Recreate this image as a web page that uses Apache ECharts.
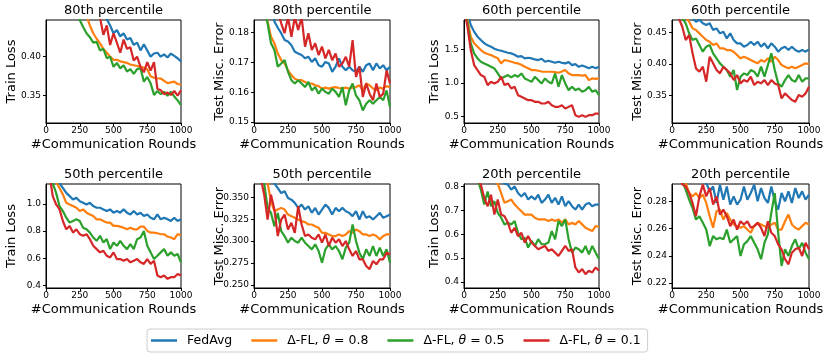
<!DOCTYPE html>
<html>
<head>
<meta charset="utf-8">
<title>Delta-FL percentile curves</title>
<script src="https://cdn.jsdelivr.net/npm/echarts@6/dist/echarts.min.js"></script>
<style>
  html, body { margin: 0; padding: 0; background: #fff; }
  #chart { width: 830px; height: 353px; }
</style>
</head>
<body>
<div id="chart"></div>
<script>
// communication rounds (x values shared by every curve)
const rounds = [0, 25, 50, 75, 100, 125, 150, 175, 200, 225, 250, 275, 300, 325, 350, 375, 400, 425, 450, 475,
  500, 525, 550, 575, 600, 625, 650, 675, 700, 725, 750, 775, 800, 825, 850, 875, 900, 925, 950, 975, 1000];
const xTicks = [0, 250, 500, 750, 1000];

const seriesNames = ['FedAvg', 'Δ-FL, θ = 0.8', 'Δ-FL, θ = 0.5', 'Δ-FL, θ = 0.1'];
const colors = ['#1f77b4', '#ff7f0e', '#2ca02c', '#d62728'];

const titles = ['80th percentile', '80th percentile', '60th percentile', '60th percentile',
  '50th percentile', '50th percentile', '20th percentile', '20th percentile'];
const yNames = ['Train Loss', 'Test Misc. Error', 'Train Loss', 'Test Misc. Error',
  'Train Loss', 'Test Misc. Error', 'Train Loss', 'Test Misc. Error'];

// y tick labels per panel
const yTicks1 = [0.35, 0.40];
const yTicks2 = [0.15, 0.16, 0.17, 0.18];
const yTicks3 = [0.5, 1.0, 1.5];
const yTicks4 = [0.35, 0.40, 0.45];
const yTicks5 = [0.4, 0.6, 0.8, 1.0];
const yTicks6 = [0.25, 0.275, 0.3, 0.325, 0.35];
const yTicks7 = [0.4, 0.5, 0.6, 0.7, 0.8];
const yTicks8 = [0.22, 0.24, 0.26, 0.28];

// train loss, 80th percentile
const loss80FedAvg = [0.85,0.78,0.73,0.69,0.66,0.63,0.61,0.59,0.57,0.55,0.535,0.52,0.505,0.495,0.485,0.475,0.465,0.455,0.448,0.44,0.430,0.434,0.426,0.43,0.422,0.424,0.415,0.418,0.408,0.416,0.408,0.40,0.404,0.405,0.400,0.403,0.399,0.404,0.401,0.398,0.394];
const loss80T08 = [0.75,0.70,0.66,0.62,0.59,0.57,0.55,0.53,0.51,0.495,0.48,0.465,0.452,0.44,0.43,0.423,0.417,0.41,0.405,0.40,0.396,0.396,0.394,0.393,0.392,0.39,0.389,0.388,0.387,0.386,0.384,0.375,0.373,0.372,0.372,0.369,0.366,0.367,0.368,0.365,0.364];
const loss80T05 = [0.70,0.65,0.61,0.58,0.55,0.53,0.51,0.49,0.475,0.46,0.447,0.438,0.43,0.425,0.418,0.419,0.408,0.41,0.398,0.40,0.387,0.392,0.385,0.389,0.381,0.384,0.378,0.384,0.385,0.368,0.374,0.366,0.351,0.356,0.352,0.355,0.350,0.355,0.349,0.344,0.338];
const loss80T01 = [0.80,0.74,0.70,0.66,0.62,0.60,0.58,0.56,0.54,0.52,0.51,0.50,0.49,0.48,0.47,0.46,0.45,0.428,0.44,0.415,0.43,0.418,0.405,0.422,0.41,0.412,0.395,0.40,0.387,0.38,0.393,0.382,0.393,0.359,0.357,0.352,0.354,0.351,0.356,0.350,0.357];

// test misc. error, 80th percentile
const err80FedAvg = [0.25,0.235,0.222,0.21,0.2,0.192,0.1836,0.1815,0.1797,0.1774,0.1769,0.1757,0.1735,0.1729,0.1724,0.1713,0.1718,0.1701,0.1713,0.1690,0.1685,0.1701,0.1696,0.1668,0.1685,0.1713,0.1685,0.1673,0.1685,0.1673,0.1668,0.1685,0.1668,0.1690,0.1696,0.1673,0.1696,0.1679,0.1690,0.1673,0.1685];
const err80T08 = [0.22,0.208,0.198,0.19,0.1835,0.1785,0.1763,0.1729,0.1707,0.1696,0.1673,0.1657,0.1645,0.1640,0.1640,0.1634,0.1629,0.1629,0.1623,0.1620,0.1612,0.1615,0.1612,0.1615,0.1617,0.1614,0.1612,0.1615,0.1612,0.1615,0.1617,0.1623,0.1606,0.1629,0.1623,0.1612,0.1606,0.1615,0.1612,0.1620,0.1617];
const err80T05 = [0.215,0.205,0.196,0.188,0.183,0.1763,0.1741,0.1685,0.1696,0.1707,0.1668,0.1640,0.1629,0.1640,0.1629,0.1617,0.1634,0.1606,0.1617,0.1595,0.1612,0.1601,0.1595,0.1612,0.1601,0.1584,0.1617,0.1556,0.1606,0.1629,0.1589,0.1573,0.1539,0.1561,0.1573,0.1561,0.1573,0.1584,0.1573,0.1606,0.1550];
const err80T01 = [0.26,0.245,0.232,0.22,0.21,0.2,0.192,0.187,0.1830,0.1797,0.185,0.1785,0.185,0.1808,0.185,0.1752,0.1797,0.1741,0.1763,0.1724,0.1752,0.1713,0.1741,0.1707,0.1729,0.1685,0.1696,0.1718,0.1685,0.1774,0.1651,0.1685,0.1584,0.1629,0.1595,0.1573,0.1629,0.1584,0.1595,0.1673,0.1629];

// train loss, 60th percentile
const loss60FedAvg = [2.4,2.05,1.863,1.764,1.689,1.639,1.590,1.56,1.540,1.51,1.490,1.48,1.465,1.45,1.440,1.42,1.391,1.40,1.366,1.375,1.366,1.35,1.341,1.36,1.316,1.33,1.316,1.30,1.316,1.30,1.291,1.31,1.266,1.28,1.241,1.26,1.241,1.22,1.241,1.22,1.241];
const loss60T08 = [2.3,1.95,1.689,1.590,1.540,1.49,1.450,1.43,1.415,1.39,1.366,1.291,1.341,1.33,1.316,1.30,1.291,1.27,1.241,1.22,1.192,1.19,1.182,1.17,1.167,1.167,1.167,1.16,1.152,1.17,1.192,1.14,1.117,1.117,1.117,1.11,1.117,1.042,1.067,1.06,1.067];
const loss60T05 = [2.2,1.9,1.590,1.440,1.366,1.316,1.291,1.266,1.241,1.216,1.142,1.067,1.092,1.117,1.082,1.117,1.092,1.142,1.067,1.042,1.017,1.092,1.042,0.993,1.067,1.017,0.993,1.142,0.943,1.117,0.993,0.893,0.943,0.893,0.918,0.868,0.893,0.943,0.868,0.893,0.818];
const loss60T01 = [2.1,1.85,1.490,1.266,1.192,1.117,1.092,0.968,1.017,0.993,1.017,1.092,0.968,0.993,0.918,0.943,0.818,0.794,0.769,0.744,0.744,0.719,0.719,0.694,0.694,0.719,0.669,0.644,0.644,0.669,0.619,0.644,0.669,0.520,0.495,0.520,0.495,0.520,0.520,0.545,0.545];

// test misc. error, 60th percentile
const err60FedAvg = [0.56,0.53,0.51,0.495,0.485,0.478,0.472,0.4668,0.470,0.4642,0.4616,0.4642,0.4537,0.4563,0.4484,0.4511,0.4405,0.4484,0.4379,0.4326,0.4326,0.4274,0.430,0.4353,0.430,0.4353,0.4274,0.4326,0.4248,0.4326,0.4274,0.4195,0.4248,0.4274,0.4221,0.4274,0.4221,0.4195,0.4221,0.4195,0.4232];
const err60T08 = [0.53,0.51,0.495,0.483,0.474,0.4668,0.4563,0.4537,0.4484,0.4432,0.4379,0.4353,0.430,0.4326,0.4248,0.4248,0.4221,0.4221,0.4195,0.4142,0.409,0.4116,0.409,0.4063,0.4037,0.4011,0.4063,0.4037,0.409,0.4037,0.4116,0.4063,0.3984,0.3958,0.3932,0.3958,0.3932,0.3958,0.3984,0.4011,0.40];
const err60T05 = [0.52,0.50,0.485,0.472,0.4642,0.4484,0.4379,0.4405,0.430,0.4195,0.4274,0.430,0.4169,0.409,0.4011,0.3958,0.3906,0.380,0.3906,0.359,0.380,0.3853,0.3827,0.3906,0.3879,0.380,0.3958,0.380,0.3984,0.4169,0.3906,0.3695,0.3643,0.3748,0.3827,0.3748,0.3722,0.3827,0.3722,0.3774,0.3774];
const err60T01 = [0.51,0.49,0.472,0.4589,0.4379,0.4458,0.4169,0.3932,0.3879,0.3958,0.3722,0.4116,0.4011,0.3906,0.3853,0.3958,0.3906,0.3853,0.3748,0.3827,0.3695,0.3748,0.3722,0.380,0.3669,0.3722,0.3695,0.3748,0.3669,0.3748,0.3695,0.3669,0.3458,0.3537,0.3485,0.3432,0.3406,0.3511,0.3485,0.3537,0.3643];

// train loss, 50th percentile
const loss50FedAvg = [1.6,1.45,1.32,1.22,1.15,1.116,1.080,1.056,1.032,1.044,1.019,1.007,0.995,1.007,0.983,0.971,0.971,0.959,0.947,0.959,0.935,0.947,0.935,0.959,0.935,0.922,0.947,0.922,0.935,0.910,0.922,0.898,0.886,0.922,0.886,0.898,0.886,0.874,0.898,0.874,0.886];
const loss50T08 = [1.5,1.35,1.24,1.16,1.116,1.068,1.007,0.995,0.983,0.971,0.947,0.959,0.935,0.922,0.910,0.886,0.886,0.874,0.862,0.862,0.838,0.838,0.833,0.825,0.813,0.825,0.813,0.813,0.833,0.833,0.801,0.789,0.789,0.784,0.777,0.777,0.760,0.753,0.741,0.777,0.770];
const loss50T05 = [1.45,1.28,1.15,1.080,0.983,0.947,0.898,0.862,0.874,0.886,0.874,0.825,0.813,0.789,0.753,0.729,0.765,0.716,0.741,0.668,0.716,0.692,0.729,0.692,0.668,0.704,0.668,0.741,0.753,0.801,0.692,0.644,0.595,0.619,0.644,0.668,0.619,0.644,0.619,0.632,0.571];
const loss50T01 = [1.4,1.22,1.056,0.995,0.959,0.874,0.813,0.838,0.789,0.813,0.777,0.765,0.777,0.741,0.692,0.668,0.644,0.656,0.619,0.607,0.644,0.595,0.595,0.583,0.595,0.571,0.583,0.595,0.571,0.559,0.595,0.559,0.583,0.474,0.462,0.474,0.450,0.462,0.462,0.486,0.474];

// test misc. error, 50th percentile
const err50FedAvg = [0.45,0.43,0.41,0.395,0.382,0.372,0.366,0.3606,0.3549,0.3568,0.3492,0.3473,0.3436,0.3379,0.3417,0.336,0.3398,0.3322,0.3379,0.3303,0.336,0.3417,0.3379,0.3303,0.3379,0.3341,0.3379,0.3341,0.3322,0.3284,0.3341,0.3246,0.3341,0.3265,0.3284,0.3246,0.3284,0.3322,0.3265,0.3284,0.3303];
const err50T08 = [0.43,0.41,0.39,0.376,0.366,0.3455,0.3341,0.336,0.3379,0.336,0.3303,0.3284,0.3265,0.3246,0.3227,0.3216,0.3189,0.3189,0.317,0.3151,0.3094,0.3094,0.3075,0.3057,0.3057,0.3075,0.3057,0.3075,0.3113,0.3094,0.3132,0.3113,0.3075,0.3075,0.3057,0.3075,0.3057,0.3019,0.3057,0.3075,0.3075];
const err50T05 = [0.42,0.40,0.38,0.366,0.3379,0.3322,0.317,0.3322,0.3113,0.3057,0.2981,0.3038,0.30,0.2981,0.3038,0.2981,0.2943,0.2905,0.2962,0.2886,0.2753,0.2905,0.2962,0.2905,0.2943,0.2886,0.2791,0.2924,0.2981,0.3189,0.30,0.2867,0.2791,0.2905,0.2829,0.2943,0.2829,0.2924,0.2829,0.2905,0.2753];
const err50T01 = [0.41,0.39,0.372,0.353,0.3246,0.353,0.336,0.3057,0.3246,0.3303,0.3132,0.3208,0.3094,0.3398,0.3189,0.3057,0.3075,0.3038,0.3019,0.3075,0.2981,0.3075,0.2943,0.3038,0.2981,0.3019,0.2943,0.30,0.2905,0.2829,0.2886,0.2791,0.2791,0.2715,0.2678,0.2772,0.2734,0.2791,0.2791,0.2867,0.2848];

// train loss, 20th percentile
const loss20FedAvg = [1.2,1.12,1.06,1.0,0.96,0.93,0.90,0.88,0.86,0.85,0.835,0.825,0.812,0.807,0.786,0.80,0.772,0.758,0.772,0.745,0.758,0.745,0.765,0.731,0.745,0.765,0.731,0.752,0.724,0.758,0.717,0.738,0.717,0.703,0.724,0.703,0.724,0.731,0.717,0.724,0.724];
const loss20T08 = [1.1,1.04,0.99,0.95,0.92,0.895,0.875,0.857,0.842,0.83,0.812,0.772,0.731,0.738,0.745,0.724,0.710,0.696,0.682,0.682,0.682,0.669,0.662,0.662,0.662,0.655,0.662,0.655,0.662,0.648,0.662,0.641,0.648,0.641,0.655,0.641,0.627,0.620,0.613,0.634,0.631];
const loss20T05 = [1.05,0.98,0.92,0.87,0.83,0.786,0.724,0.779,0.717,0.738,0.689,0.669,0.641,0.648,0.641,0.655,0.606,0.579,0.585,0.544,0.572,0.551,0.579,0.558,0.558,0.565,0.613,0.579,0.655,0.634,0.662,0.579,0.523,0.544,0.537,0.523,0.551,0.516,0.551,0.523,0.496];
const loss20T01 = [1.0,0.95,0.90,0.86,0.83,0.807,0.752,0.717,0.765,0.682,0.745,0.682,0.675,0.648,0.606,0.627,0.592,0.606,0.565,0.592,0.565,0.551,0.537,0.544,0.551,0.530,0.537,0.523,0.509,0.530,0.551,0.530,0.537,0.461,0.440,0.454,0.433,0.447,0.440,0.461,0.447];

// test misc. error, 20th percentile
const err20FedAvg = [0.36,0.345,0.333,0.323,0.315,0.309,0.304,0.30,0.297,0.295,0.2935,0.2873,0.2909,0.2788,0.2922,0.2812,0.2909,0.2776,0.2836,0.2776,0.2812,0.2909,0.2812,0.2861,0.2922,0.28,0.2897,0.2824,0.2788,0.2909,0.28,0.2739,0.2861,0.28,0.2873,0.2788,0.2897,0.2824,0.2873,0.2812,0.2849];
const err20T08 = [0.33,0.318,0.308,0.30,0.2935,0.2861,0.2836,0.2861,0.2824,0.2849,0.2788,0.2691,0.2606,0.2727,0.2739,0.2666,0.2715,0.2666,0.263,0.2618,0.2606,0.2618,0.2593,0.2569,0.2618,0.2642,0.263,0.2618,0.2606,0.263,0.2642,0.2593,0.2593,0.2654,0.2703,0.263,0.2606,0.2593,0.2618,0.2642,0.263];
const err20T05 = [0.325,0.312,0.302,0.295,0.2885,0.2812,0.2751,0.2666,0.2691,0.2642,0.2593,0.2472,0.2545,0.2521,0.2533,0.2521,0.2593,0.2496,0.2521,0.2545,0.2399,0.2484,0.2508,0.2545,0.2496,0.2448,0.2375,0.2496,0.2557,0.2715,0.2861,0.2569,0.2326,0.2448,0.2399,0.2472,0.2521,0.2448,0.2496,0.2423,0.2375];
const err20T01 = [0.32,0.308,0.299,0.2925,0.2909,0.2861,0.2788,0.2691,0.2836,0.2922,0.2836,0.2897,0.2776,0.2836,0.2703,0.2739,0.2691,0.2618,0.2666,0.2593,0.2654,0.263,0.2654,0.2606,0.2618,0.2642,0.2606,0.2545,0.2654,0.2569,0.2545,0.2484,0.2448,0.2375,0.2338,0.2423,0.2448,0.246,0.2399,0.2496,0.2448];

// panel setup: curves, visible y range, ticks, label decimals
const panels = [
  { curves: [loss80FedAvg, loss80T08, loss80T05, loss80T01], yMin: 0.315, yMax: 0.447, ticks: yTicks1, dec: 2 },
  { curves: [err80FedAvg, err80T08, err80T05, err80T01], yMin: 0.1497, yMax: 0.1841, ticks: yTicks2, dec: 2 },
  { curves: [loss60FedAvg, loss60T08, loss60T05, loss60T01], yMin: 0.404, yMax: 1.937, ticks: yTicks3, dec: 1 },
  { curves: [err60FedAvg, err60T08, err60T05, err60T01], yMin: 0.307, yMax: 0.4695, ticks: yTicks4, dec: 2 },
  { curves: [loss50FedAvg, loss50T08, loss50T05, loss50T01], yMin: 0.383, yMax: 1.145, ticks: yTicks5, dec: 1 },
  { curves: [err50FedAvg, err50T08, err50T05, err50T01], yMin: 0.2463, yMax: 0.3652, ticks: yTicks6, dec: 3 },
  { curves: [loss20FedAvg, loss20T08, loss20T05, loss20T01], yMin: 0.375, yMax: 0.810, ticks: yTicks7, dec: 1 },
  { curves: [err20FedAvg, err20T08, err20T05, err20T01], yMin: 0.2164, yMax: 0.2927, ticks: yTicks8, dec: 2 }
];

const FONT = 'DejaVu Sans';
const colLeft = [46, 254, 464, 672];
const colWidth = [135, 136, 135, 137];
const rowTop = [20, 184];
const rowHeight = [103, 104];
const yNameX = [12, 220, 435, 638];
const titleY = [11, 175];
const xNameY = [145, 310];

const grids = [], xAxes = [], yAxes = [], series = [], graphics = [];

panels.forEach(function (p, i) {
  const col = i % 4, row = Math.floor(i / 4);
  const left = colLeft[col], top = rowTop[row], w = colWidth[col], h = rowHeight[row];
  grids.push({
    left: left, top: top, width: w, height: h,
    show: true, borderColor: '#000', borderWidth: 1, backgroundColor: '#fff'
  });
  xAxes.push({
    type: 'value', gridIndex: i, min: 0, max: 1000, interval: 250,
    axisLine: { show: true, lineStyle: { color: '#000', width: 1 } },
    axisTick: { show: true, length: 3, customValues: xTicks, lineStyle: { color: '#000' } },
    axisLabel: {
      margin: 3, color: '#000', fontFamily: FONT, fontSize: 9,
      customValues: xTicks,
      formatter: function (v) { return String(v); }
    },
    splitLine: { show: false }
  });
  yAxes.push({
    type: 'value', gridIndex: i, min: p.yMin, max: p.yMax,
    axisLine: { show: true, lineStyle: { color: '#000', width: 1 } },
    axisTick: { show: true, length: 3, customValues: p.ticks, lineStyle: { color: '#000' } },
    axisLabel: {
      margin: 5, color: '#000', fontFamily: FONT, fontSize: 9,
      customValues: p.ticks,
      formatter: function (v) { return Number(v).toFixed(p.dec); }
    },
    splitLine: { show: false }
  });
  p.curves.forEach(function (vals, k) {
    series.push({
      type: 'line', name: seriesNames[k], xAxisIndex: i, yAxisIndex: i,
      data: rounds.map(function (r, j) { return [r, vals[j]]; }),
      showSymbol: false, symbol: 'none', clip: true,
      lineStyle: { color: colors[k], width: 2.2 },
      itemStyle: { color: colors[k] }
    });
  });
  const cx = left + w / 2;
  graphics.push({
    type: 'text', x: cx, y: titleY[row],
    style: { text: titles[i], fill: '#000', font: '13px "DejaVu Sans"', textAlign: 'center', textVerticalAlign: 'middle' }
  });
  graphics.push({
    type: 'text', x: cx, y: xNameY[row],
    style: { text: '#Communication Rounds', fill: '#000', font: '13px "DejaVu Sans"', textAlign: 'center', textVerticalAlign: 'middle' }
  });
  graphics.push({
    type: 'text', x: yNameX[col], y: top + h / 2, rotation: Math.PI / 2,
    style: { text: yNames[i], fill: '#000', font: '13px "DejaVu Sans"', textAlign: 'center', textVerticalAlign: 'middle' }
  });
});

const chart = echarts.init(document.getElementById('chart'));
chart.setOption({
  animation: false,
  backgroundColor: '#fff',
  grid: grids,
  xAxis: xAxes,
  yAxis: yAxes,
  series: series,
  graphic: graphics,
  legend: {
    data: seriesNames,
    left: 147, top: 329,
    padding: [5, 7, 5, 4],
    itemGap: 19, itemWidth: 26, itemHeight: 2.5,
    icon: 'rect',
    borderColor: '#ccc', borderWidth: 1, borderRadius: 3,
    backgroundColor: '#fff',
    textStyle: {
      color: '#000', fontFamily: FONT, fontSize: 12.5, padding: [0, 0, 0, 5],
      rich: { i: { fontStyle: 'italic', fontFamily: FONT, fontSize: 12.5, color: '#000' } }
    },
    formatter: function (name) { return name.replace('θ', '{i|θ}'); }
  }
});
</script>
</body>
</html>
